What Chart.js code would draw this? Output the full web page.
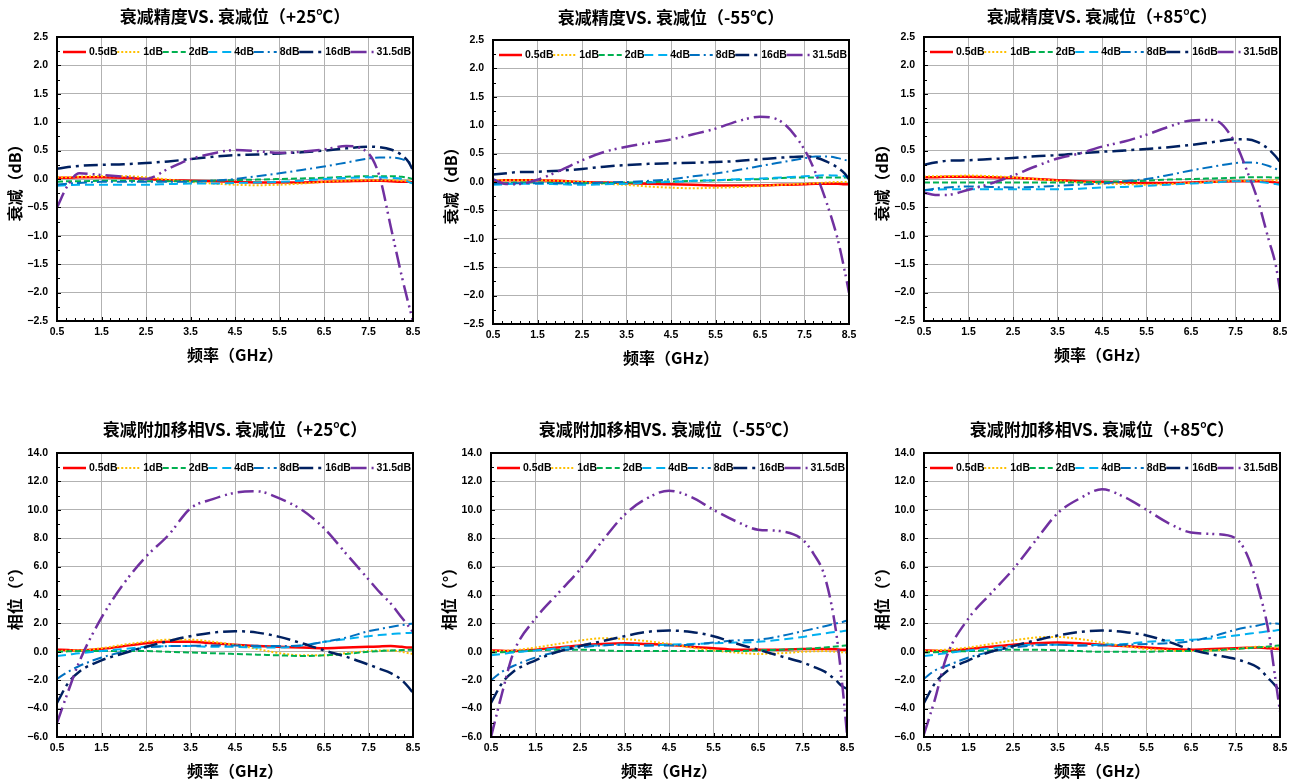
<!DOCTYPE html>
<html>
<head>
<meta charset="utf-8">
<script src="https://cdn.jsdelivr.net/npm/chart.js@4.4.0/dist/chart.umd.min.js"></script>
<style>
  html, body { margin: 0; padding: 0; background: #fff; width: 1293px; height: 782px; overflow: hidden; }
  canvas { position: absolute; }
</style>
</head>
<body>
<canvas id="c1" width="470" height="370"></canvas>
<canvas id="c2" width="470" height="370"></canvas>
<canvas id="c3" width="470" height="370"></canvas>
<canvas id="c4" width="470" height="370"></canvas>
<canvas id="c5" width="470" height="370"></canvas>
<canvas id="c6" width="470" height="370"></canvas>
<script>
"use strict";

// 1: data (frequency in GHz)
const freq = [0.5, 0.75, 1, 1.5, 2, 2.5, 3, 3.5, 4, 4.5, 5, 5.5, 6, 6.5, 7, 7.5, 7.75, 8, 8.25, 8.4, 8.5];
const xTicks = [0.5, 1.5, 2.5, 3.5, 4.5, 5.5, 6.5, 7.5, 8.5];
const seriesNames = ['0.5dB', '1dB', '2dB', '4dB', '8dB', '16dB', '31.5dB'];

// attenuation error (dB), one row per series
const att25 = [
  [0.02, 0.02, 0.03, 0.03, 0.02, 0.0, -0.02, -0.03, -0.04, -0.05, -0.06, -0.06, -0.06, -0.05, -0.04, -0.03, -0.03, -0.04, -0.05, -0.05, -0.06],
  [0.03, 0.03, 0.04, 0.05, 0.05, 0.03, -0.01, -0.05, -0.08, -0.1, -0.11, -0.1, -0.08, -0.05, -0.03, -0.02, -0.02, -0.02, -0.03, -0.03, -0.03],
  [-0.05, -0.04, -0.04, -0.03, -0.03, -0.04, -0.04, -0.04, -0.03, -0.02, -0.01, 0.0, 0.01, 0.02, 0.04, 0.05, 0.05, 0.05, 0.04, 0.02, 0.0],
  [-0.12, -0.11, -0.1, -0.1, -0.1, -0.1, -0.09, -0.08, -0.08, -0.07, -0.06, -0.05, -0.03, 0.0, 0.02, 0.03, 0.03, 0.02, 0.0, -0.05, -0.08],
  [-0.1, -0.08, -0.07, -0.05, -0.05, -0.05, -0.05, -0.05, -0.03, 0.0, 0.05, 0.1, 0.16, 0.22, 0.29, 0.36, 0.38, 0.38, 0.35, 0.3, 0.25],
  [0.18, 0.21, 0.23, 0.25, 0.26, 0.28, 0.31, 0.35, 0.39, 0.42, 0.43, 0.45, 0.47, 0.5, 0.54, 0.57, 0.56, 0.52, 0.42, 0.3, 0.15],
  [-0.5, -0.1, 0.1, 0.07, 0.04, 0.0, 0.18, 0.35, 0.45, 0.51, 0.49, 0.46, 0.48, 0.52, 0.58, 0.45, 0.04, -0.84, -1.72, -2.2, -2.5]
];
const attM55 = [
  [0.02, 0.03, 0.03, 0.03, 0.02, 0.0, -0.01, -0.02, -0.03, -0.04, -0.05, -0.06, -0.06, -0.06, -0.05, -0.04, -0.03, -0.03, -0.03, -0.04, -0.04],
  [0.03, 0.03, 0.03, 0.03, 0.02, 0.0, -0.03, -0.05, -0.08, -0.1, -0.11, -0.1, -0.09, -0.07, -0.05, -0.03, -0.02, -0.01, 0.0, 0.0, 0.0],
  [-0.02, -0.02, -0.01, -0.01, -0.02, -0.02, -0.02, -0.01, 0.0, 0.01, 0.02, 0.03, 0.04, 0.05, 0.07, 0.08, 0.08, 0.08, 0.08, 0.08, 0.08],
  [-0.05, -0.04, -0.03, -0.03, -0.04, -0.05, -0.04, -0.03, -0.01, 0.0, 0.02, 0.03, 0.05, 0.06, 0.08, 0.1, 0.11, 0.12, 0.11, 0.1, 0.08],
  [-0.03, -0.02, -0.02, -0.02, -0.02, -0.02, -0.01, 0.0, 0.02, 0.05, 0.1, 0.15, 0.21, 0.28, 0.35, 0.42, 0.45, 0.45, 0.42, 0.39, 0.37],
  [0.13, 0.15, 0.17, 0.18, 0.2, 0.23, 0.27, 0.3, 0.32, 0.33, 0.34, 0.35, 0.37, 0.4, 0.43, 0.45, 0.43, 0.36, 0.25, 0.15, 0.05],
  [0.05, -0.03, -0.04, 0.04, 0.2, 0.38, 0.53, 0.62, 0.69, 0.75, 0.84, 0.94, 1.07, 1.15, 1.05, 0.57, 0.16, -0.37, -1.02, -1.55, -1.95]
];
const att85 = [
  [0.03, 0.03, 0.04, 0.04, 0.03, 0.02, 0.0, -0.02, -0.04, -0.05, -0.06, -0.07, -0.07, -0.06, -0.05, -0.04, -0.04, -0.04, -0.05, -0.06, -0.07],
  [0.04, 0.05, 0.05, 0.06, 0.05, 0.03, 0.0, -0.03, -0.06, -0.08, -0.09, -0.1, -0.09, -0.07, -0.05, -0.03, -0.03, -0.02, -0.02, -0.02, -0.02],
  [-0.06, -0.06, -0.06, -0.06, -0.06, -0.06, -0.06, -0.06, -0.06, -0.05, -0.04, -0.03, -0.01, 0.0, 0.01, 0.02, 0.03, 0.03, 0.03, 0.02, 0.02],
  [-0.2, -0.19, -0.18, -0.18, -0.18, -0.18, -0.18, -0.18, -0.17, -0.15, -0.14, -0.12, -0.1, -0.08, -0.06, -0.04, -0.04, -0.05, -0.07, -0.09, -0.1],
  [-0.2, -0.17, -0.15, -0.13, -0.14, -0.15, -0.14, -0.12, -0.1, -0.08, -0.04, 0.0, 0.07, 0.15, 0.22, 0.28, 0.29, 0.28, 0.23, 0.18, 0.15],
  [0.25, 0.29, 0.32, 0.33, 0.35, 0.37, 0.4, 0.42, 0.45, 0.48, 0.5, 0.53, 0.56, 0.6, 0.65, 0.7, 0.7, 0.65, 0.52, 0.4, 0.3],
  [-0.24, -0.28, -0.28, -0.19, -0.08, 0.06, 0.22, 0.36, 0.45, 0.57, 0.66, 0.78, 0.92, 1.03, 1.04, 0.63, 0.16, -0.37, -1.08, -1.5, -1.95]
];

// additional phase shift (deg)
const ph25 = [
  [0.15, 0.12, 0.1, 0.2, 0.4, 0.6, 0.7, 0.7, 0.6, 0.5, 0.4, 0.35, 0.3, 0.25, 0.3, 0.35, 0.38, 0.4, 0.35, 0.3, 0.3],
  [0.05, 0.08, 0.1, 0.25, 0.5, 0.7, 0.85, 0.85, 0.7, 0.5, 0.2, -0.1, -0.25, -0.25, -0.1, 0.05, 0.1, 0.1, 0.0, -0.1, -0.15],
  [0.0, 0.03, 0.05, 0.05, 0.05, 0.05, 0.0, -0.05, -0.1, -0.15, -0.2, -0.25, -0.3, -0.25, -0.15, 0.0, 0.05, 0.1, 0.12, 0.14, 0.15],
  [-0.3, -0.2, -0.1, 0.05, 0.2, 0.35, 0.4, 0.4, 0.35, 0.35, 0.3, 0.3, 0.45, 0.7, 0.9, 1.1, 1.18, 1.25, 1.3, 1.33, 1.35],
  [-1.9, -1.4, -1.0, -0.4, 0.0, 0.3, 0.4, 0.42, 0.45, 0.45, 0.42, 0.4, 0.45, 0.7, 1.0, 1.45, 1.6, 1.75, 1.88, 1.95, 2.0],
  [-3.6, -2.2, -1.4, -0.6, -0.1, 0.35, 0.75, 1.1, 1.35, 1.45, 1.35, 1.05, 0.6, 0.1, -0.35, -0.9, -1.2, -1.5, -2.0, -2.5, -2.9],
  [-5.0, -2.8, -0.7, 2.4, 4.8, 6.7, 8.2, 10.1, 10.75, 11.2, 11.3, 10.8, 10.0, 8.7, 6.9, 5.1, 4.2, 3.4, 2.4, 1.8, 1.4]
];
const phM55 = [
  [0.1, 0.07, 0.05, 0.15, 0.3, 0.45, 0.55, 0.6, 0.55, 0.5, 0.35, 0.25, 0.15, 0.15, 0.15, 0.2, 0.2, 0.2, 0.18, 0.15, 0.15],
  [0.05, 0.07, 0.1, 0.3, 0.55, 0.8, 0.95, 0.9, 0.75, 0.55, 0.3, 0.1, -0.05, -0.15, -0.1, 0.0, 0.03, 0.05, 0.0, -0.03, -0.05],
  [-0.05, -0.03, 0.0, 0.1, 0.15, 0.15, 0.1, 0.05, 0.05, 0.05, 0.05, 0.05, 0.05, 0.1, 0.15, 0.2, 0.25, 0.3, 0.37, 0.42, 0.45],
  [-0.25, -0.15, -0.05, 0.1, 0.25, 0.4, 0.45, 0.5, 0.45, 0.5, 0.55, 0.6, 0.65, 0.7, 0.85, 1.05, 1.18, 1.3, 1.4, 1.45, 1.5],
  [-2.0, -1.4, -1.0, -0.4, 0.0, 0.3, 0.45, 0.5, 0.45, 0.45, 0.5, 0.65, 0.8, 0.85, 1.1, 1.45, 1.62, 1.8, 2.0, 2.1, 2.2],
  [-3.6, -2.2, -1.4, -0.6, 0.0, 0.4, 0.75, 1.1, 1.4, 1.5, 1.4, 1.1, 0.6, 0.15, -0.3, -0.75, -1.05, -1.4, -2.0, -2.45, -2.6],
  [-6.0, -2.9, -0.1, 2.35, 4.1, 5.8, 7.8, 9.65, 10.8, 11.35, 10.9, 10.0, 9.2, 8.6, 8.5, 7.9, 6.9, 5.3, 1.5, -2.5, -5.8]
];
const ph85 = [
  [0.1, 0.07, 0.05, 0.2, 0.35, 0.5, 0.6, 0.65, 0.6, 0.5, 0.4, 0.3, 0.2, 0.15, 0.2, 0.25, 0.28, 0.3, 0.25, 0.22, 0.2],
  [0.05, 0.1, 0.15, 0.3, 0.55, 0.8, 1.0, 1.05, 0.9, 0.65, 0.4, 0.2, 0.1, 0.05, 0.1, 0.2, 0.28, 0.35, 0.33, 0.3, 0.3],
  [-0.05, -0.03, 0.0, 0.05, 0.1, 0.15, 0.15, 0.1, 0.05, 0.0, 0.0, 0.0, 0.05, 0.05, 0.1, 0.2, 0.25, 0.3, 0.38, 0.42, 0.45],
  [-0.3, -0.2, -0.1, 0.1, 0.25, 0.4, 0.5, 0.5, 0.45, 0.5, 0.55, 0.7, 0.8, 0.85, 0.95, 1.15, 1.25, 1.35, 1.45, 1.5, 1.55],
  [-1.9, -1.3, -1.0, -0.4, 0.0, 0.3, 0.45, 0.5, 0.45, 0.45, 0.5, 0.55, 0.6, 0.75, 1.1, 1.55, 1.72, 1.85, 2.0, 2.0, 1.95],
  [-3.6, -2.2, -1.4, -0.6, 0.0, 0.4, 0.8, 1.15, 1.4, 1.5, 1.4, 1.15, 0.7, 0.15, -0.2, -0.5, -0.75, -1.1, -1.9, -2.4, -2.8],
  [-5.8, -3.3, -0.4, 2.35, 4.1, 5.8, 7.8, 9.75, 10.8, 11.45, 10.9, 10.0, 9.05, 8.4, 8.3, 8.0, 6.9, 4.6, 1.3, -2.0, -4.2]
];

// 2: styles
const seriesColors = ['#ff0000', '#ffc000', '#00b050', '#00b0f0', '#0070c0', '#002060', '#7030a0'];
const seriesDash = [[], [2, 2], [6, 3], [9, 5], [10, 4, 2, 4], [14, 5, 3, 5], [16, 5, 2, 4, 2, 5]];
const seriesWidth = [2.5, 2, 2, 2, 2, 2.5, 2.5];

const CJK = '"Noto Sans CJK SC", sans-serif';
const LAT = '"Liberation Sans", Arial, sans-serif';

const panels = [
  { id: 'c1', left: 0,   top: 0,   titleY: 17, title: '衰减精度VS. 衰减位（+25℃）', yTitle: '衰减（dB）', data: att25, min: -2.5, max: 2.5, step: 0.5 },
  { id: 'c2', left: 436, top: 3,   titleY: 15, title: '衰减精度VS. 衰减位（-55℃）', yTitle: '衰减（dB）', data: attM55, min: -2.5, max: 2.5, step: 0.5 },
  { id: 'c3', left: 867, top: 0,   titleY: 17, title: '衰减精度VS. 衰减位（+85℃）', yTitle: '衰减（dB）', data: att85, min: -2.5, max: 2.5, step: 0.5 },
  { id: 'c4', left: 0,   top: 416, titleY: 14, title: '衰减附加移相VS. 衰减位（+25℃）', yTitle: '相位（°）', data: ph25, min: -6, max: 14, step: 2 },
  { id: 'c5', left: 434, top: 416, titleY: 14, title: '衰减附加移相VS. 衰减位（-55℃）', yTitle: '相位（°）', data: phM55, min: -6, max: 14, step: 2 },
  { id: 'c6', left: 867, top: 416, titleY: 14, title: '衰减附加移相VS. 衰减位（+85℃）', yTitle: '相位（°）', data: ph85, min: -6, max: 14, step: 2 }
];

function fmt(v) {
  return v.toFixed(1).replace('-', '−');
}

// title over the plot, frame, inside tick marks and the in-plot legend (Excel style)
const excelPlot = {
  id: 'excelPlot',
  afterDatasetsDraw(chart, args, opts) {
    const ctx = chart.ctx;
    const a = chart.chartArea;
    const xs = chart.scales.x;
    const ys = chart.scales.y;
    ctx.save();

    // chart title, centred on the plot
    ctx.font = 'bold 17px ' + CJK;
    ctx.fillStyle = '#000';
    ctx.textAlign = 'center';
    ctx.textBaseline = 'middle';
    ctx.fillText(opts.text, (a.left + a.right) / 2, opts.y);

    // legend
    ctx.font = 'bold 10.5px ' + LAT;
    ctx.textAlign = 'left';
    const widths = seriesNames.map(n => ctx.measureText(n).width);
    const lineLen = 23;
    const used = widths.reduce((s, w) => s + w + lineLen + 3, 0);
    const gap = (a.right - a.left - 8 - used) / (seriesNames.length - 1);
    let lx = a.left + 6;
    const ly = a.top + 15;
    seriesNames.forEach((n, i) => {
      ctx.beginPath();
      ctx.setLineDash(seriesDash[i]);
      ctx.strokeStyle = seriesColors[i];
      ctx.lineWidth = seriesWidth[i];
      ctx.moveTo(lx, ly);
      ctx.lineTo(lx + lineLen, ly);
      ctx.stroke();
      ctx.setLineDash([]);
      ctx.fillStyle = '#000';
      ctx.fillText(n, lx + lineLen + 3, ly + 0.5);
      lx += lineLen + 3 + widths[i] + gap;
    });

    // tick marks
    ctx.strokeStyle = '#000';
    ctx.lineWidth = 1;
    ctx.beginPath();
    ys.ticks.forEach(t => {
      const p = Math.round(ys.getPixelForValue(t.value)) + 0.5;
      ctx.moveTo(a.left, p); ctx.lineTo(a.left + 4, p);
      const m = ys.getPixelForValue(t.value + ys.options.ticks.stepSize / 2);
      if (m > a.top) { const q = Math.round(m) + 0.5; ctx.moveTo(a.left, q); ctx.lineTo(a.left + 3, q); }
    });
    for (let k = 0; k <= 40; k++) {
      const p = Math.round(xs.getPixelForValue(0.5 + k * 0.2)) + 0.5;
      ctx.moveTo(p, a.bottom); ctx.lineTo(p, a.bottom - (k % 5 === 0 ? 4 : 3));
    }
    ctx.stroke();

    // frame
    ctx.lineWidth = 2;
    ctx.strokeRect(a.left, a.top, a.right - a.left, a.bottom - a.top);
    ctx.restore();
  }
};

// 3: build each chart
function appendChart(p) {
  const canvas = document.getElementById(p.id);
  canvas.style.left = p.left + 'px';
  canvas.style.top = p.top + 'px';
  const datasets = p.data.map((vals, i) => ({
    label: seriesNames[i],
    data: freq.map((f, k) => ({ x: f, y: vals[k] })),
    borderColor: seriesColors[i],
    borderDash: seriesDash[i],
    borderWidth: seriesWidth[i],
    pointRadius: 0,
    fill: false,
    cubicInterpolationMode: 'monotone',
    order: seriesNames.length - i
  }));
  new Chart(canvas, {
    type: 'line',
    data: { datasets },
    plugins: [excelPlot],
    options: {
      responsive: false,
      animation: false,
      layout: { padding: { left: 0, right: 57, top: 37, bottom: 0 } },
      plugins: {
        legend: { display: false },
        tooltip: { enabled: false },
        title: { display: false },
        excelPlot: { text: p.title, y: p.titleY }
      },
      scales: {
        x: {
          type: 'linear',
          min: 0.5,
          max: 8.5,
          afterBuildTicks(scale) { scale.ticks = xTicks.map(v => ({ value: v })); },
          afterFit(scale) { scale.height = 49; },
          ticks: {
            autoSkip: false,
            maxRotation: 0,
            padding: 5,
            color: '#000',
            font: { family: LAT, size: 10.5, weight: 'bold' },
            callback: v => fmt(v)
          },
          grid: { color: '#b2b2b2', lineWidth: 1, drawTicks: false },
          border: { display: false },
          title: {
            display: true,
            text: '频率（GHz）',
            color: '#000',
            font: { family: CJK, size: 16, weight: 'bold' },
            padding: { top: 0, bottom: 5 }
          }
        },
        y: {
          type: 'linear',
          min: p.min,
          max: p.max,
          afterFit(scale) { scale.width = 57; },
          ticks: {
            stepSize: p.step,
            padding: 9,
            color: '#000',
            font: { family: LAT, size: 10.5, weight: 'bold' },
            callback: v => fmt(v)
          },
          grid: { color: '#b2b2b2', lineWidth: 1, drawTicks: false },
          border: { display: false },
          title: {
            display: true,
            text: p.yTitle,
            color: '#000',
            font: { family: CJK, size: 16, weight: 'bold' },
            padding: { top: 5, bottom: 0 }
          }
        }
      }
    }
  });
}

panels.forEach(appendChart);
</script>
</body>
</html>
